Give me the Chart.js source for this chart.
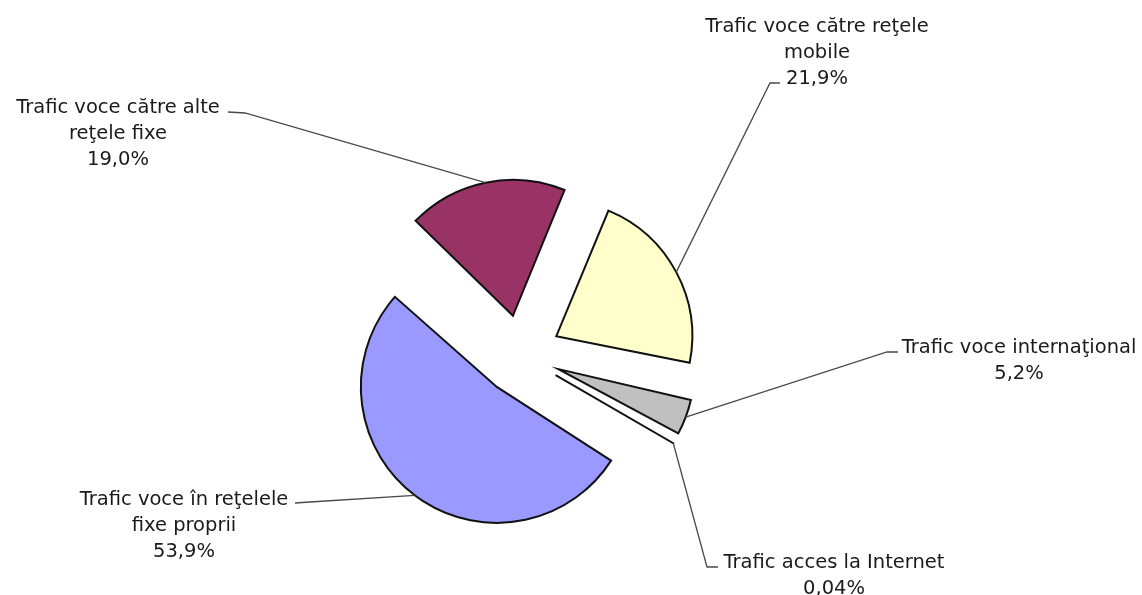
<!DOCTYPE html>
<html>
<head>
<meta charset="utf-8">
<script src="https://cdn.jsdelivr.net/npm/chart.js@4/dist/chart.umd.min.js"></script>
<style>
  html, body { margin: 0; padding: 0; background: #fff; }
  #wrap { width: 1142px; height: 595px; position: relative; }
</style>
</head>
<body>
<div id="wrap"><canvas id="chart-traffic"></canvas></div>
<script>
const categories = [
  ['Trafic voce către reţele', 'mobile'],
  ['Trafic voce internaţional'],
  ['Trafic acces la Internet'],
  ['Trafic voce în reţelele', 'fixe proprii'],
  ['Trafic voce către alte', 'reţele fixe']
];
const shares = [21.9, 5.2, 0.04, 53.9, 19.0];
const shareLabels = ['21,9%', '5,2%', '0,04%', '53,9%', '19,0%'];
const sliceColors = ['#FFFFCC', '#C0C0C0', '#FFFFFF', '#9999FF', '#993366'];

// where each label sits: text centre, first baseline, and the leader line bend/end
const labelBoxes = [
  { x: 817, y: 32, elbow: [770, 83], end: [780, 83] },
  { x: 1019, y: 353, elbow: [887, 352], end: [898, 352] },
  { x: 834, y: 568, elbow: [707, 567], end: [718, 567] },
  { x: 184, y: 505, elbow: [310, 502], end: [295, 503] },
  { x: 118, y: 113, elbow: [245, 113], end: [228, 112] }
];

const EXPLODE = 40;   // how far every slice is pulled out
const RADIUS = 136;

// Chart.js moves a slice out by offset/4 but also grows its radius by
// offset/4*fix for narrow or wide slices; take that growth back off
function fixOf(circ) {
  return 1 - Math.sin(Math.min(Math.PI, circ || 0));
}

const evenExplode = {
  id: 'evenExplode',
  beforeDatasetsDraw(chart) {
    chart.getDatasetMeta(0).data.forEach(arc => {
      const circ = arc.endAngle - arc.startAngle;
      arc.outerRadius = RADIUS - (arc.options.offset / 4) * fixOf(circ);
    });
  }
};

const leaderLabels = {
  id: 'leaderLabels',
  afterDatasetsDraw(chart) {
    const ctx = chart.ctx;
    const meta = chart.getDatasetMeta(0);
    ctx.save();
    meta.data.forEach((arc, i) => {
      const p = arc.getProps(['x', 'y', 'startAngle', 'endAngle', 'outerRadius'], true);
      const mid = (p.startAngle + p.endAngle) / 2;
      const q = arc.options.offset / 4;
      const fix = fixOf(p.endAngle - p.startAngle);
      const r = q + p.outerRadius + q * fix;
      const sx = p.x + Math.cos(mid) * r;
      const sy = p.y + Math.sin(mid) * r;
      const box = labelBoxes[i];

      ctx.strokeStyle = '#4a4a4a';
      ctx.lineWidth = 1.3;
      ctx.beginPath();
      ctx.moveTo(sx, sy);
      ctx.lineTo(box.elbow[0], box.elbow[1]);
      ctx.lineTo(box.end[0], box.end[1]);
      ctx.stroke();

      ctx.fillStyle = '#1a1a1a';
      ctx.font = '19.5px "DejaVu Sans"';
      ctx.textAlign = 'center';
      ctx.textBaseline = 'alphabetic';
      const lines = categories[i].concat([shareLabels[i]]);
      lines.forEach((t, k) => {
        ctx.fillText(t, box.x, box.y + k * 26);
      });
    });
    ctx.restore();
  }
};

new Chart(document.getElementById('chart-traffic').getContext('2d'), {
  type: 'pie',
  data: {
    labels: categories.map(c => c.join(' ')),
    datasets: [{
      data: shares,
      backgroundColor: sliceColors,
      borderColor: '#111',
      borderWidth: 2,
      borderJoinStyle: 'miter',
      offset: EXPLODE * 4,
      radius: RADIUS
    }]
  },
  options: {
    responsive: true,
    maintainAspectRatio: false,
    animation: false,
    rotation: 22.5,
    layout: { padding: { left: 0, right: 100, top: 115, bottom: 0 } },
    plugins: {
      legend: { display: false },
      tooltip: { enabled: false }
    }
  },
  plugins: [evenExplode, leaderLabels]
});
</script>
</body>
</html>
